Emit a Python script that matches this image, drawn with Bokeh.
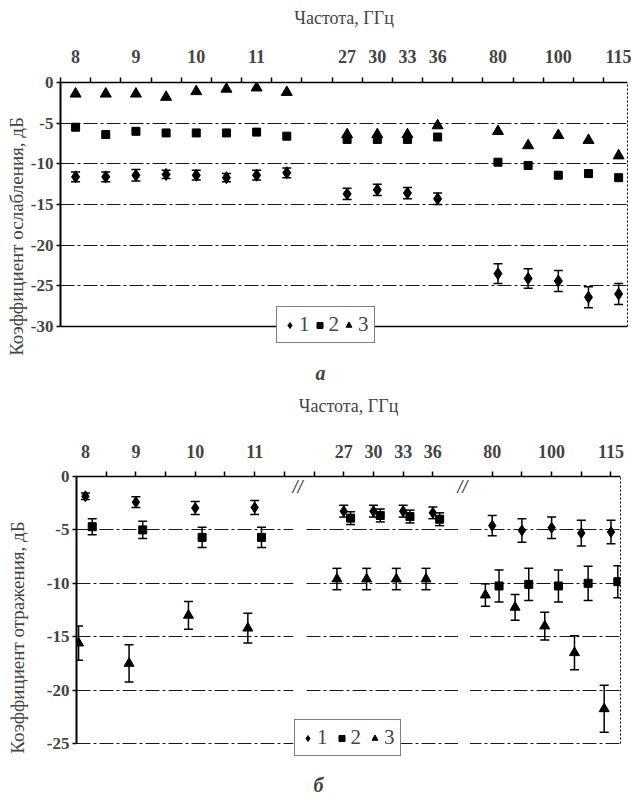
import numpy as np
from bokeh.plotting import figure
from bokeh.models import (ColumnDataSource, FixedTicker, LinearAxis, Range1d, Whisker,
                          TeeHead, Legend, LegendItem, Label, BoxAnnotation, Grid, Span)
from bokeh.transform import dodge
from bokeh.embed import file_html
from bokeh.resources import INLINE

# ---------------- data ----------------
# frequency slots (GHz) of the broken category axis; None = gap between ranges
slots = [8, 8.5, 9, 9.5, 10, 10.5, 11, 11.5, None, 27, 30, 33, 36, None, 80, 90, 100, 110, 115]
tick_labels = [8, 9, 10, 11, 27, 30, 33, 36, 80, 100, 115]
y_ticks_a = [0, -5, -10, -15, -20, -25, -30]
y_ticks_b = [0, -5, -10, -15, -20, -25]
series_names = ["1", "2", "3"]

# panel a: attenuation coefficient, dB
freq_a = [8, 8.5, 9, 9.5, 10, 10.5, 11, 11.5, 27, 30, 33, 36, 80, 90, 100, 110, 115]
att1 = [-11.6, -11.6, -11.4, -11.3, -11.4, -11.7, -11.4, -11.1, -13.7, -13.2, -13.6, -14.3,
        -23.5, -24.1, -24.4, -26.4, -26.0]
att1_err = [0.6, 0.6, 0.7, 0.5, 0.6, 0.5, 0.6, 0.6, 0.7, 0.7, 0.7, 0.7, 1.2, 1.2, 1.3, 1.3, 1.3]
att2 = [-5.5, -6.4, -6.0, -6.2, -6.2, -6.2, -6.1, -6.6, -7.0, -7.0, -7.0, -6.7,
        -9.8, -10.2, -11.4, -11.2, -11.7]
att3 = [-1.4, -1.4, -1.4, -1.8, -1.1, -0.8, -0.65, -1.2, -6.4, -6.4, -6.4, -5.3,
        -6.0, -7.75, -6.5, -7.1, -9.0]

# panel b: reflection coefficient, dB
freq_b = [8.15, 9, 10, 11, 27, 30, 33, 36, 80, 90, 100, 110, 115]
ref1 = [-1.85, -2.4, -2.95, -2.9, -3.25, -3.25, -3.25, -3.4, -4.6, -5.05, -4.8, -5.3, -5.2]
ref1_err = [0.3, 0.5, 0.6, 0.65, 0.55, 0.55, 0.55, 0.55, 0.95, 1.1, 1.0, 1.2, 1.1]
ref2 = [-4.7, -5.0, -5.7, -5.7, -3.9, -3.65, -3.75, -4.0, -10.25, -10.1, -10.25, -10.0, -9.85]
ref2_err = [0.75, 0.8, 0.95, 0.95, 0.6, 0.6, 0.6, 0.6, 1.5, 1.5, 1.5, 1.6, 1.5]
ref3 = [-15.6, -17.5, -13.0, -14.2, -9.6, -9.6, -9.6, -9.6, -11.1, -12.25, -14.0, -16.5, -21.75]
ref3_err = [1.6, 1.75, 1.3, 1.4, 1.0, 1.0, 1.0, 1.0, 1.05, 1.2, 1.3, 1.6, 2.2]

# ---------------- helpers ----------------
FONT = "Liberation Serif"


def slot_of(f):
    """position of a frequency on the broken axis (slot index units)"""
    runs, cur = [], []
    for i, s in enumerate(slots):
        if s is None:
            if cur:
                runs.append(cur)
            cur = []
        else:
            cur.append((i, s))
    if cur:
        runs.append(cur)
    for run in runs:
        idx = [r[0] for r in run]
        fr = [r[1] for r in run]
        if fr[0] <= f <= fr[-1]:
            return round(float(np.interp(f, fr, idx)), 4)
    raise ValueError(f)


def style_top_axis(ax, label_standoff, title_standoff):
    ax.axis_label = "Частота, ГГц"
    ax.axis_label_text_font = FONT
    ax.axis_label_text_font_size = "18px"
    ax.axis_label_text_font_style = "normal"
    ax.axis_label_standoff = title_standoff
    ax.axis_line_color = "black"
    ax.axis_line_width = 1.5
    ax.major_tick_out = 0
    ax.major_tick_in = 0
    ax.minor_tick_out = 5
    ax.minor_tick_in = 0
    ax.minor_tick_line_color = "black"
    ax.minor_tick_line_width = 1.5
    ax.major_label_text_font = FONT
    ax.major_label_text_font_size = "18px"
    ax.major_label_text_font_style = "bold"
    ax.major_label_standoff = label_standoff


def style_left_axis(ax, title, title_standoff):
    ax.axis_label = title
    ax.axis_label_text_font = FONT
    ax.axis_label_text_font_size = "19px"
    ax.axis_label_text_font_style = "normal"
    ax.axis_label_standoff = title_standoff
    ax.axis_line_color = "black"
    ax.axis_line_width = 2
    ax.major_tick_out = 4
    ax.major_tick_in = 0
    ax.major_tick_line_width = 1.5
    ax.minor_tick_out = 0
    ax.minor_tick_in = 0
    ax.major_label_text_font = FONT
    ax.major_label_text_font_size = "17px"
    ax.major_label_text_font_style = "bold"
    ax.major_label_standoff = 3


def border_axis(bounds):
    ax = LinearAxis(ticker=FixedTicker(ticks=[]), bounds=bounds)
    ax.axis_line_color = "black"
    ax.axis_line_width = 1
    ax.axis_line_dash = "2 2"
    ax.major_tick_out = 0
    ax.minor_tick_out = 0
    ax.major_label_text_font_size = "0px"
    return ax


def add_grid(p, ticks):
    g = Grid(dimension=1, ticker=FixedTicker(ticks=ticks))
    g.grid_line_color = "black"
    g.grid_line_width = 1
    g.grid_line_dash = "14 3 3 3"
    g.grid_line_alpha = 0.9
    p.add_layout(g, "center")


def make_legend(renderers, loc, spacing):
    items = [LegendItem(label=n, renderers=[r]) for n, r in zip(series_names, renderers)]
    return Legend(items=items, orientation="horizontal", location=loc,
                  border_line_color="black", border_line_width=1.5,
                  background_fill_color="white", background_fill_alpha=1.0,
                  label_text_font=FONT, label_text_font_size="21px",
                  label_width=10, label_height=20,
                  glyph_width=15, glyph_height=24, label_standoff=2,
                  spacing=spacing, padding=5, margin=0)


def whisker(src, base, lo, hi):
    return Whisker(base=base, lower=lo, upper=hi, source=src,
                   line_color="black", line_width=1.5,
                   upper_head=TeeHead(size=9, line_width=1.5, line_color="black"),
                   lower_head=TeeHead(size=9, line_width=1.5, line_color="black"))


# ---------------- panel a ----------------
# frame: 60..627 px wide, 0 dB at 82 px, -30 dB at 326 px, frame extends to 390 px
scale_a = 244 / 30.0
x_a = [slot_of(f) for f in freq_a]
src_a = ColumnDataSource(dict(
    x=x_a, y1=att1, y2=att2, y3=att3,
    lo1=[v - e for v, e in zip(att1, att1_err)],
    hi1=[v + e for v, e in zip(att1, att1_err)],
))

p1 = figure(width=631, height=392,
            x_range=Range1d(-0.5, -0.5 + 567 / 30.17), y_range=Range1d(-308 / scale_a, 0),
            output_backend="svg", toolbar_location=None,
            x_axis_location=None, y_axis_location=None,
            min_border_left=60, min_border_right=4, min_border_top=82, min_border_bottom=2)
p1.grid.visible = False
p1.outline_line_color = None

lab_pos_a = [slot_of(L) for L in tick_labels]
bounds_a = [i - 0.5 for i in range(len(slots))]
top_a = LinearAxis(ticker=FixedTicker(ticks=lab_pos_a, minor_ticks=bounds_a),
                   major_label_overrides={pos: str(L) for pos, L in zip(lab_pos_a, tick_labels)})
style_top_axis(top_a, 15, 19)
p1.add_layout(top_a, "above")

left_a = LinearAxis(ticker=FixedTicker(ticks=y_ticks_a), bounds=(min(y_ticks_a), 0),
                    major_label_overrides={v: str(v) for v in y_ticks_a})
style_left_axis(left_a, "Коэффициент ослабления, дБ", 1)
p1.add_layout(left_a, "left")
p1.add_layout(border_axis((min(y_ticks_a), 0)), "right")
add_grid(p1, [v for v in y_ticks_a if v not in (0, min(y_ticks_a))])
p1.add_layout(Span(location=min(y_ticks_a), dimension="width", line_color="black", line_width=1.5))

p1.add_layout(whisker(src_a, "x", "lo1", "hi1"))
ra1 = p1.scatter("x", "y1", source=src_a, marker="diamond", size=12, color="black")
ra2 = p1.scatter("x", "y2", source=src_a, marker="square", size=8, color="black")
ra3 = p1.scatter("x", "y3", source=src_a, marker="triangle", size=11, color="black")

p1.add_layout(make_legend([ra1, ra2, ra3], (216, 47), 2), "center")
p1.add_layout(Label(x=260, y=18, x_units="screen", y_units="screen", text="а",
                    text_font=FONT, text_font_size="20px", text_font_style="bold italic",
                    text_align="center", text_baseline="middle"))

# ---------------- panel b ----------------
# frame: 76..620 px wide, 0 dB at 476 px, -25 dB at 743 px, frame extends to 799 px
scale_b = 267 / 25.0
x_b = [slot_of(f) for f in freq_b]
dodges = [0.0, 0.23, -0.23]
vals_b = [ref1, ref2, ref3]
errs_b = [ref1_err, ref2_err, ref3_err]
cols = dict(x=x_b)
for k, (v, e) in enumerate(zip(vals_b, errs_b), start=1):
    cols[f"y{k}"] = v
    cols[f"lo{k}"] = [a - b for a, b in zip(v, e)]
    cols[f"hi{k}"] = [a + b for a, b in zip(v, e)]
src_b = ColumnDataSource(cols)

p2 = figure(width=631, height=408,
            x_range=Range1d(0, 18.32), y_range=Range1d(-322 / scale_b, 0),
            output_backend="svg", toolbar_location=None,
            x_axis_location=None, y_axis_location=None,
            min_border_left=76, min_border_right=11, min_border_top=84, min_border_bottom=2)
p2.grid.visible = False
p2.outline_line_color = None

breaks_b = [7.45, 13.0]
lab_pos_b = [slot_of(min(freq_b, key=lambda f: abs(f - L))) for L in tick_labels]
minor_b = [i for i in range(1, len(slots)) if min(abs(i - b) for b in breaks_b) > 0.3]
top_b = LinearAxis(ticker=FixedTicker(ticks=lab_pos_b, minor_ticks=minor_b),
                   major_label_overrides={pos: str(L) for pos, L in zip(lab_pos_b, tick_labels)})
style_top_axis(top_b, 14, 26)
p2.add_layout(top_b, "above")

left_b = LinearAxis(ticker=FixedTicker(ticks=y_ticks_b), bounds=(min(y_ticks_b), 0),
                    major_label_overrides={v: str(v) for v in y_ticks_b})
style_left_axis(left_b, "Коэффициент отражения, дБ", 16)
p2.add_layout(left_b, "left")
p2.add_layout(border_axis((min(y_ticks_b), 0)), "right")
add_grid(p2, [v for v in y_ticks_b if v != 0])

for b in breaks_b:
    p2.add_layout(BoxAnnotation(left=b - 0.15, right=b + 0.25, bottom=min(y_ticks_b) - 0.3,
                                fill_color="white", fill_alpha=1, line_alpha=0, level="underlay"))
    p2.add_layout(Label(x=b, y=0, text="//", text_font=FONT, text_font_size="18px",
                        text_font_style="bold italic", text_align="center", text_baseline="top"))

markers = ["diamond", "square", "triangle"]
sizes = [11, 8, 10]
rb = []
for k in range(3):
    xs = dodge("x", dodges[k], range=p2.x_range)
    p2.add_layout(whisker(src_b, xs, f"lo{k+1}", f"hi{k+1}"))
    rb.append(p2.scatter(x=xs, y=f"y{k+1}", source=src_b, marker=markers[k],
                         size=sizes[k], color="black"))

p2.add_layout(make_legend(rb, (218, 42), 6), "center")
p2.add_layout(Label(x=242, y=14, x_units="screen", y_units="screen", text="б",
                    text_font=FONT, text_font_size="20px", text_font_style="bold italic",
                    text_align="center", text_baseline="middle"))

open("out.html", "w").write(file_html([p1, p2], INLINE))
